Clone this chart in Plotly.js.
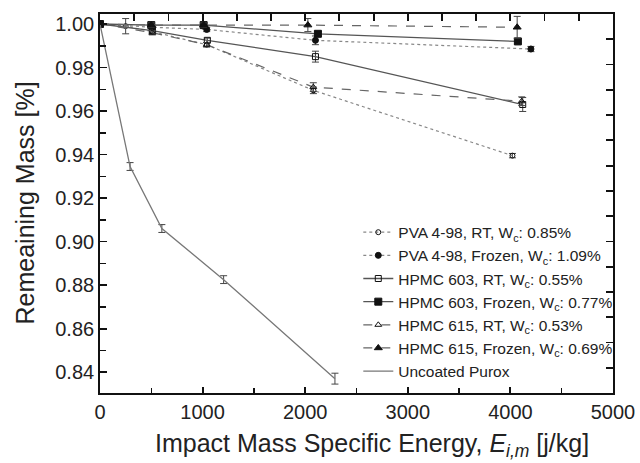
<!DOCTYPE html>
<html><head><meta charset="utf-8">
<script src="https://cdn.plot.ly/plotly-3.0.1.min.js"></script>
<style>body{margin:0;background:#fff}#c{width:640px;height:463px}</style>
</head><body><div id="c"></div>
<script>
// Series data
const pvaRT_x = [0, 250, 510, 1040, 2080, 4020];
const pvaRT_y = [1.000, 0.999, 0.9965, 0.9905, 0.9695, 0.9395];
const pvaRT_e = [0, 0.0035, 0.001, 0.001, 0.0015, 0.001];

const pvaFr_x = [0, 510, 1040, 2100, 4200];
const pvaFr_y = [1.000, 0.9985, 0.9975, 0.9925, 0.9885];
const pvaFr_e = [0, 0.001, 0.001, 0.002, 0.0012];

const h603RT_x = [0, 510, 1046, 2100, 4120];
const h603RT_y = [1.000, 0.997, 0.9925, 0.985, 0.963];
const h603RT_e = [0, 0.001, 0.001, 0.0025, 0.0032];

const h603Fr_x = [0, 500, 1010, 2124, 4073];
const h603Fr_y = [1.000, 0.9995, 0.9995, 0.9955, 0.992];
const h603Fr_e = [0, 0.001, 0.001, 0.0012, 0.001];

const h615RT_x = [0, 510, 1040, 2079, 4110];
const h615RT_y = [1.000, 0.996, 0.9905, 0.971, 0.9645];
const h615RT_e = [0, 0.001, 0.001, 0.002, 0.002];

const h615Fr_x = [0, 500, 1010, 2026, 4066];
const h615Fr_y = [1.000, 0.9995, 0.9995, 0.9995, 0.9985];
const h615Fr_e = [0, 0.001, 0.001, 0.003, 0.005];

const purox_x = [0, 293, 603, 1205, 2290];
const purox_y = [1.000, 0.9345, 0.906, 0.8825, 0.837];
const purox_e = [0, 0.0018, 0.0018, 0.0018, 0.0025];

const names = [
  'PVA 4-98, RT, W<sub>c</sub>: 0.85%',
  'PVA 4-98, Frozen, W<sub>c</sub>: 1.09%',
  'HPMC 603, RT, W<sub>c</sub>: 0.55%',
  'HPMC 603, Frozen, W<sub>c</sub>: 0.77%',
  'HPMC 615, RT, W<sub>c</sub>: 0.53%',
  'HPMC 615, Frozen, W<sub>c</sub>: 0.69%',
  'Uncoated Purox'
];
const xTitle = 'Impact Mass Specific Energy, <i>E</i><sub><i>i,m</i></sub> [j/kg]';
const yTitle = 'Remeaining Mass [%]';

// top/right axes: 15 equal divisions
const divs = [0, 15];

function tr(x, y, e, name, dash, sym, size, lineColor, width) {
  const t = {
    x: x, y: y, name: name, type: 'scatter',
    mode: sym ? 'lines+markers' : 'lines',
    line: {color: lineColor, dash: dash, width: width},
    error_y: {type: 'data', array: e, visible: true, color: '#444', thickness: 1, width: 3.5}
  };
  if (sym) t.marker = {symbol: sym, size: size, color: '#111', line: {color: '#111', width: 1}};
  return t;
}

const data = [
  tr(pvaRT_x, pvaRT_y, pvaRT_e, names[0], 'dot', 'circle-open', 5, '#888', 1.2),
  tr(pvaFr_x, pvaFr_y, pvaFr_e, names[1], 'dot', 'circle', 6, '#888', 1.2),
  tr(h603RT_x, h603RT_y, h603RT_e, names[2], 'solid', 'square-open', 6, '#555', 1.3),
  tr(h603Fr_x, h603Fr_y, h603Fr_e, names[3], 'solid', 'square', 7, '#555', 1.3),
  tr(h615RT_x, h615RT_y, h615RT_e, names[4], 'dash', 'triangle-up-open', 6, '#666', 1.2),
  tr(h615Fr_x, h615Fr_y, h615Fr_e, names[5], 'dash', 'triangle-up', 7, '#666', 1.2),
  tr(purox_x, purox_y, purox_e, names[6], 'solid', null, 0, '#777', 1.3),
  {x: divs, y: divs, xaxis: 'x2', yaxis: 'y2', mode: 'markers', marker: {size: 1, color: 'rgba(255,255,255,0)'},
   showlegend: false, hoverinfo: 'skip', type: 'scatter'}
];

const F = 'Liberation Sans, Arial, sans-serif';
const layout = {
  width: 640, height: 463,
  margin: {l: 100, r: 27, t: 14, b: 70},
  paper_bgcolor: '#fff', plot_bgcolor: '#fff',
  showlegend: true,
  legend: {x: 0.5035, y: 0.468, xanchor: 'left', yanchor: 'top', bgcolor: 'rgba(0,0,0,0)',
    font: {family: F, size: 15.5, color: '#222'}, itemwidth: 30, tracegroupgap: 0},
  xaxis: {
    range: [0, 5000], dtick: 1000, tick0: 0,
    showline: true, linecolor: '#111', linewidth: 1.8, mirror: true,
    ticks: 'inside', ticklen: 6, tickcolor: '#111', tickwidth: 1.8,
    minor: {ticks: 'inside', ticklen: 5, dtick: 500, tickcolor: '#111', tickwidth: 1.5},
    showgrid: false, zeroline: false,
    tickfont: {family: F, size: 20, color: '#222'}
  },
  yaxis: {
    range: [0.8304, 1.0046], dtick: 0.02, tick0: 0.84, tickformat: '.2f',
    showline: true, linecolor: '#111', linewidth: 1.8, mirror: true,
    ticks: 'inside', ticklen: 7, tickcolor: '#111', tickwidth: 1.8,
    minor: {ticks: 'inside', ticklen: 6, dtick: 0.01, tickcolor: '#111', tickwidth: 1.5},
    showgrid: false, zeroline: false,
    tickfont: {family: F, size: 20, color: '#222'}
  },
  xaxis2: {overlaying: 'x', side: 'top', anchor: 'y', range: divs, dtick: 1, tick0: 0, tickmode: 'linear',
    ticks: 'inside', ticklen: 7, tickcolor: '#111', tickwidth: 1.8,
    showticklabels: false, showline: false, showgrid: false, zeroline: false},
  yaxis2: {overlaying: 'y', side: 'right', anchor: 'x', range: divs, dtick: 1, tick0: 0, tickmode: 'linear',
    ticks: 'inside', ticklen: 7, tickcolor: '#111', tickwidth: 1.8,
    showticklabels: false, showline: false, showgrid: false, zeroline: false},
  annotations: [
    {text: xTitle, xref: 'paper', yref: 'paper', x: 0.53, y: 0, yshift: -52, xanchor: 'center', yanchor: 'middle',
     showarrow: false, font: {family: F, size: 25, color: '#222'}},
    {text: yTitle, xref: 'paper', yref: 'paper', x: 0, xshift: -76, y: 0.5, xanchor: 'center', yanchor: 'middle',
     textangle: -90, showarrow: false, font: {family: F, size: 25, color: '#222'}}
  ]
};
Plotly.newPlot('c', data, layout, {displayModeBar: false, staticPlot: true});
</script></body></html>
